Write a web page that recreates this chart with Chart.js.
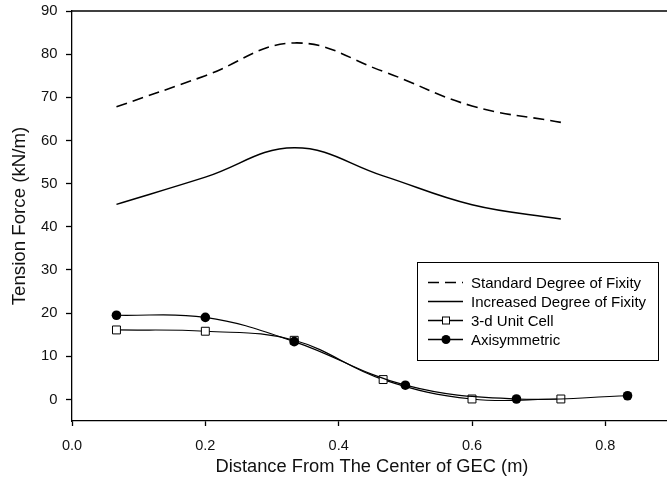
<!DOCTYPE html>
<html lang="en">
<head>
  <meta charset="UTF-8">
  <title>Tension Force</title>
  <script src="https://cdn.jsdelivr.net/npm/chart.js"></script>
  <style>
    body { margin: 0; overflow: hidden; background: #fff; }
  </style>
</head>
<body>
  <canvas id="graficoTensao" width="680" height="485" style="width:680px;height:485px"></canvas>

  <script>
    // distances (m) and tension force (kN/m)
    const fixityX = [0.0667, 0.2, 0.3333, 0.4667, 0.6, 0.7333];
    const standardFixity = [67.8, 75.0, 82.6, 76.0, 68.0, 64.2];
    const increasedFixity = [45.2, 51.5, 58.3, 51.8, 45.1, 41.8];

    const unitCellX = [0.0667, 0.2, 0.3333, 0.4667, 0.6, 0.7333];
    const unitCell = [16.1, 15.8, 13.7, 4.6, 0.1, 0.1];

    const axisymX = [0.0667, 0.2, 0.3333, 0.5, 0.6667, 0.8333];
    const axisym = [19.5, 19.0, 13.4, 3.3, 0.1, 0.85];

    const xTicks = [0, 0.2, 0.4, 0.6, 0.8];
    const yTicks = [0, 10, 20, 30, 40, 50, 60, 70, 80, 90];

    const FONT = 'Liberation Sans, Arial, sans-serif';

    function pares(xs, ys) {
      return xs.map((x, i) => ({ x: x, y: ys[i] }));
    }

    // legend box drawn by hand (line sample + marker + text)
    const legendaCaixa = {
      id: 'legendaCaixa',
      afterDraw(chart) {
        const ctx = chart.ctx;
        const area = chart.chartArea;
        ctx.save();
        // top frame line
        ctx.strokeStyle = '#000';
        ctx.lineWidth = 1.3;
        ctx.beginPath();
        ctx.moveTo(area.left, area.top);
        ctx.lineTo(area.right, area.top);
        ctx.stroke();

        const bx = 417, by = 262, bw = 241, bh = 98;
        ctx.fillStyle = '#fff';
        ctx.fillRect(bx, by, bw, bh);
        ctx.lineWidth = 1;
        ctx.strokeRect(bx + 0.5, by + 0.5, bw, bh);

        ctx.font = '15px ' + FONT;
        ctx.textBaseline = 'middle';
        chart.data.datasets.forEach((ds, i) => {
          const y = 282.5 + i * 19;
          ctx.strokeStyle = '#000';
          ctx.lineWidth = 1.5;
          ctx.setLineDash(ds.borderDash || []);
          ctx.beginPath();
          ctx.moveTo(428, y);
          ctx.lineTo(463, y);
          ctx.stroke();
          ctx.setLineDash([]);
          if (ds.pointStyle === 'rect') {
            ctx.fillStyle = '#fff';
            ctx.lineWidth = 1;
            ctx.fillRect(442, y - 4, 8, 8);
            ctx.strokeRect(442.5, y - 3.5, 7, 7);
          } else if (ds.pointRadius > 0) {
            ctx.fillStyle = '#000';
            ctx.beginPath();
            ctx.arc(446, y, 4.5, 0, Math.PI * 2);
            ctx.fill();
          }
          ctx.fillStyle = '#000';
          ctx.fillText(ds.label, 471, y + 1);
        });
        ctx.restore();
      }
    };

    const ctx = document.getElementById('graficoTensao').getContext('2d');
    new Chart(ctx, {
      type: 'line',
      data: {
        datasets: [
          {
            label: 'Standard Degree of Fixity',
            data: pares(fixityX, standardFixity),
            borderColor: '#000',
            borderWidth: 1.6,
            borderDash: [11, 6],
            pointRadius: 0,
            tension: 0.4,
            order: 4
          },
          {
            label: 'Increased Degree of Fixity',
            data: pares(fixityX, increasedFixity),
            borderColor: '#000',
            borderWidth: 1.5,
            pointRadius: 0,
            tension: 0.4,
            order: 3
          },
          {
            label: '3-d Unit Cell',
            data: pares(unitCellX, unitCell),
            borderColor: '#000',
            borderWidth: 1.2,
            pointStyle: 'rect',
            pointRadius: 5.6,
            pointBorderWidth: 1,
            pointBackgroundColor: '#fff',
            pointBorderColor: '#000',
            tension: 0.4,
            order: 2
          },
          {
            label: 'Axisymmetric',
            data: pares(axisymX, axisym),
            borderColor: '#000',
            borderWidth: 1.2,
            pointStyle: 'circle',
            pointRadius: 4.8,
            pointBorderWidth: 0,
            pointBackgroundColor: '#000',
            tension: 0.4,
            order: 1
          }
        ]
      },
      options: {
        responsive: false,
        animation: false,
        layout: { padding: { top: 11, right: 8, left: 0, bottom: 0 } },
        plugins: {
          legend: { display: false },
          tooltip: { enabled: false }
        },
        scales: {
          x: {
            type: 'linear',
            min: 0,
            max: 0.9,
            afterBuildTicks: s => { s.ticks = xTicks.map(v => ({ value: v })); },
            afterFit: s => { s.height = 64; s.paddingLeft = 0; s.paddingRight = 0; },
            grid: { drawOnChartArea: false, drawTicks: true, tickLength: 5, tickColor: '#000', tickWidth: 1.3 },
            border: { display: true, color: '#000', width: 1.3 },
            ticks: {
              color: '#111',
              padding: 11,
              maxRotation: 0,
              font: { family: FONT, size: 14.5 },
              callback: v => v.toFixed(1)
            },
            title: {
              display: true,
              text: 'Distance From The Center of GEC (m)',
              color: '#111',
              font: { family: FONT, size: 18.3 },
              padding: { top: 0, bottom: 7 }
            }
          },
          y: {
            type: 'linear',
            min: -5,
            max: 90,
            afterBuildTicks: s => { s.ticks = yTicks.map(v => ({ value: v })); },
            afterFit: s => { s.width = 72; s.paddingTop = 0; s.paddingBottom = 0; },
            grid: { drawOnChartArea: false, drawTicks: true, tickLength: 6, tickColor: '#000', tickWidth: 1.3 },
            border: { display: true, color: '#000', width: 1.3 },
            ticks: {
              color: '#111',
              padding: 8.5,
              font: { family: FONT, size: 14.8 },
              callback: v => String(v)
            },
            title: {
              display: true,
              text: 'Tension Force (kN/m)',
              color: '#111',
              font: { family: FONT, size: 18.7 },
              padding: { top: 8.5, bottom: 0 }
            }
          }
        }
      },
      plugins: [legendaCaixa]
    });
  </script>
</body>
</html>
